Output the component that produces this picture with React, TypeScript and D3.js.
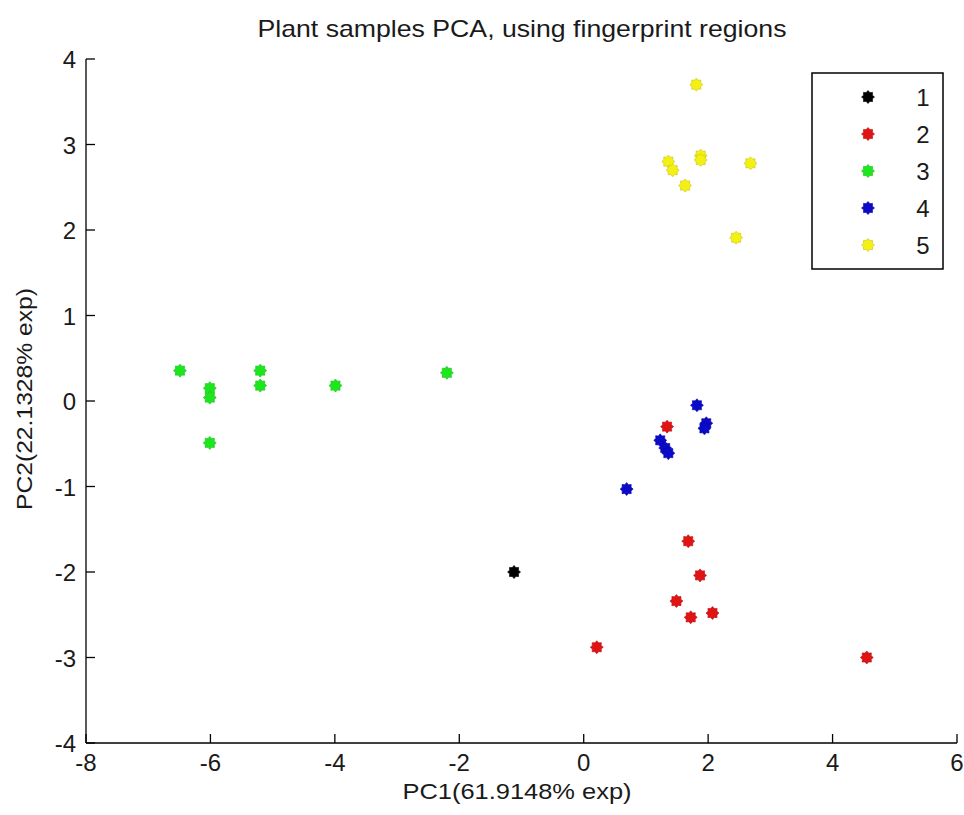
import React from "react";
import * as d3 from "d3";

const groups = ["1", "2", "3", "4", "5"];
const colors = ["#000000", "#e01414", "#1ee61e", "#0a0ac8", "#f5f014"];

const xTicks = [-8, -6, -4, -2, 0, 2, 4, 6];
const yTicks = [-4, -3, -2, -1, 0, 1, 2, 3, 4];

const pc1Group1 = [-1.12];
const pc2Group1 = [-2.0];
const pc1Group2 = [1.34, 1.68, 1.87, 1.49, 1.72, 2.07, 0.21, 4.55];
const pc2Group2 = [-0.3, -1.64, -2.04, -2.34, -2.53, -2.48, -2.88, -3.0];
const pc1Group3 = [-6.49, -6.01, -6.01, -6.01, -5.2, -5.2, -3.99, -2.2];
const pc2Group3 = [0.355, 0.15, 0.04, -0.49, 0.355, 0.18, 0.18, 0.33];
const pc1Group4 = [1.82, 1.97, 1.94, 1.23, 1.31, 1.36, 0.69];
const pc2Group4 = [-0.05, -0.26, -0.32, -0.46, -0.55, -0.61, -1.03];
const pc1Group5 = [1.81, 1.36, 1.43, 1.88, 1.88, 2.68, 1.63, 2.45];
const pc2Group5 = [3.7, 2.8, 2.7, 2.87, 2.82, 2.78, 2.52, 1.91];

const series = [
  [pc1Group1, pc2Group1],
  [pc1Group2, pc2Group2],
  [pc1Group3, pc2Group3],
  [pc1Group4, pc2Group4],
  [pc1Group5, pc2Group5],
];

function starPath(r1: number, r2: number, n: number) {
  const pts: [number, number][] = [];
  for (let i = 0; i < n * 2; i++) {
    const a = (Math.PI * i) / n - Math.PI / 2;
    const r = i % 2 === 0 ? r1 : r2;
    pts.push([Math.cos(a) * r, Math.sin(a) * r]);
  }
  return d3.line()(pts) + "Z";
}

export default function App() {
  const W = 964;
  const H = 815;
  const left = 86;
  const right = 957;
  const top = 59;
  const bottom = 743;
  const x = d3.scaleLinear().domain([-8, 6]).range([left, right]);
  const y = d3.scaleLinear().domain([-4, 4]).range([bottom, top]);
  const marker = starPath(6.5, 4.8, 8);
  const font = "'Liberation Sans', Arial, sans-serif";
  const txt = "#1a1a1a";

  return (
    <svg
      width={W}
      height={H}
      style={{ position: "absolute", left: 0, top: 0, background: "#fff" }}
      fontFamily={font}
    >
      <rect width={W} height={H} fill="#fff" />
      <text x={522} y={37} textAnchor="middle" fontSize={24} fill={txt} textLength={529} lengthAdjust="spacingAndGlyphs">
        Plant samples PCA, using fingerprint regions
      </text>

      {series.map(([xs, ys], gi) =>
        xs.map((xv, i) => (
          <path
            key={gi + "-" + i}
            d={marker}
            transform={`translate(${x(xv)},${y(ys[i])})`}
            fill={colors[gi]}
            stroke={d3.color(colors[gi])!.darker(0.6).toString()}
            strokeWidth={0.6}
          />
        ))
      )}

      <line x1={left} x2={right} y1={bottom} y2={bottom} stroke="#000" strokeWidth={1.3} />
      <line x1={left} x2={left} y1={top} y2={bottom} stroke="#000" strokeWidth={1.3} />
      {xTicks.map((t) => (
        <g key={"xt" + t}>
          <line x1={x(t)} x2={x(t)} y1={bottom} y2={bottom - 9} stroke="#000" strokeWidth={1.3} />
          <text x={x(t)} y={771} textAnchor="middle" fontSize={24} fill={txt}>
            {t}
          </text>
        </g>
      ))}
      {yTicks.map((t) => (
        <g key={"yt" + t}>
          <line x1={left} x2={left + 9} y1={y(t)} y2={y(t)} stroke="#000" strokeWidth={1.3} />
          <text x={76} y={y(t) + 9} textAnchor="end" fontSize={24} fill={txt}>
            {t}
          </text>
        </g>
      ))}

      <text x={517} y={799} textAnchor="middle" fontSize={22} fill={txt} textLength={229} lengthAdjust="spacingAndGlyphs">
        PC1(61.9148% exp)
      </text>
      <text
        transform={`translate(32,399) rotate(-90)`}
        textAnchor="middle"
        fontSize={22}
        fill={txt}
        textLength={222}
        lengthAdjust="spacingAndGlyphs"
      >
        PC2(22.1328% exp)
      </text>

      <rect x={812} y={73} width={131} height={196} fill="#fff" stroke="#000" strokeWidth={1.5} />
      {groups.map((g, i) => {
        const ly = 97 + i * 37;
        return (
          <g key={"lg" + g}>
            <path
              d={marker}
              transform={`translate(868,${ly})`}
              fill={colors[i]}
              stroke={d3.color(colors[i])!.darker(0.6).toString()}
              strokeWidth={0.6}
            />
            <text x={923} y={ly + 9} textAnchor="middle" fontSize={24} fill={txt}>
              {g}
            </text>
          </g>
        );
      })}
    </svg>
  );
}
